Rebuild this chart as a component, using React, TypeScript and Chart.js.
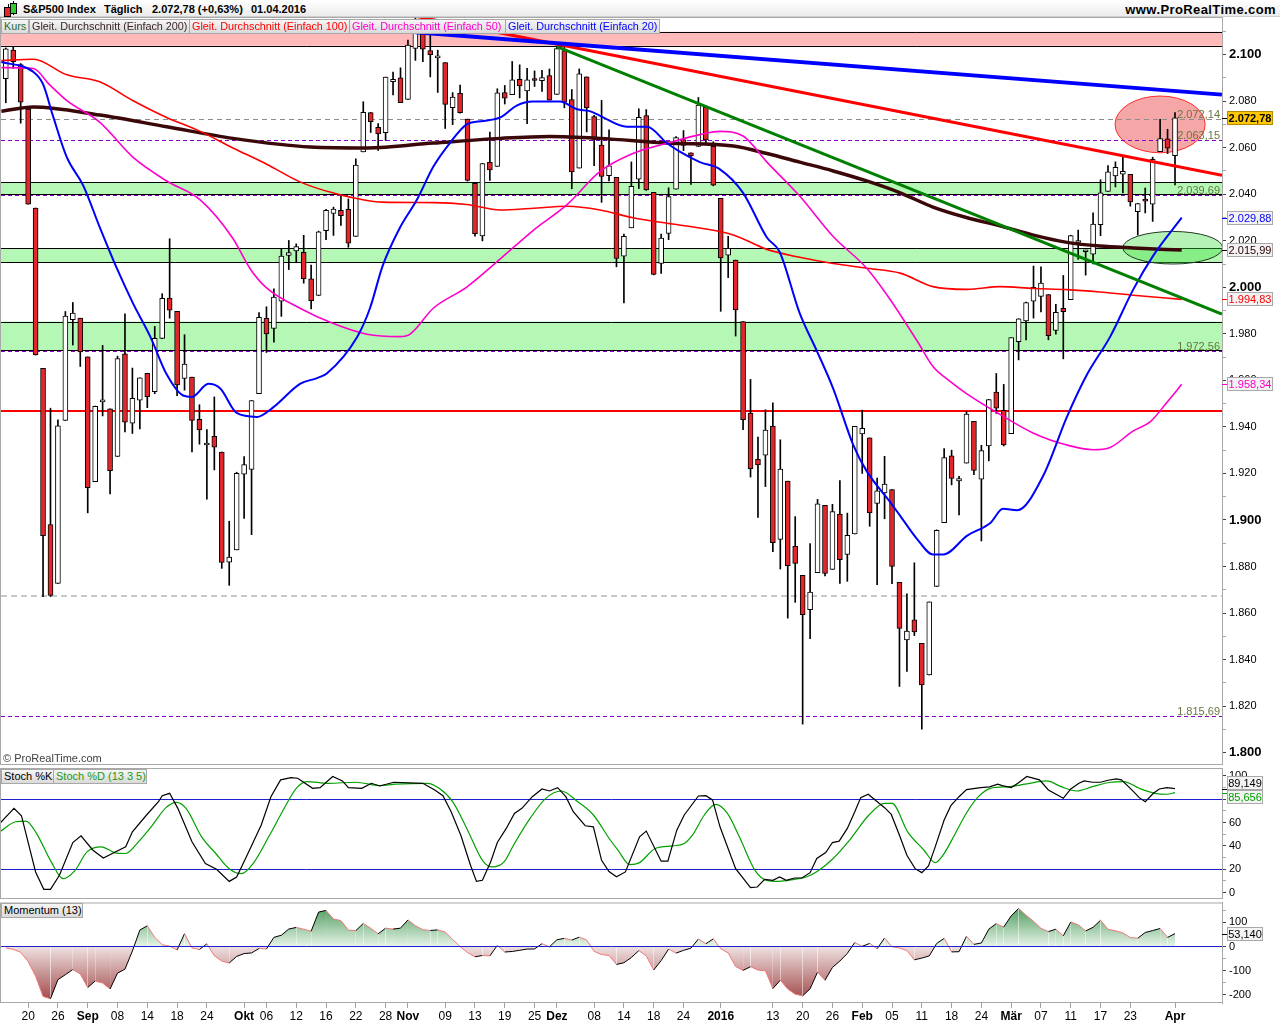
import React, { useEffect, useRef } from "react";
import { Chart, registerables } from "chart.js";
Chart.register(...registerables);

const FONT = "'Liberation Sans', Arial, Helvetica, sans-serif";
const NARROW = "'Liberation Sans Narrow', 'Arial Narrow', 'Liberation Sans', Arial, sans-serif";
Chart.defaults.font.family = FONT;

// ---------------- DATA (daily S&P500, 17.08.2015 .. 01.04.2016, index = trading day) ----------------
const openPrices = [
  2089.70, 2101.99, 2095.69, 2076.61, 2034.08, 1965.15, 1898.08, 1872.75, 1942.77, 1986.06, 1986.73,
  1970.09, 1916.52, 1950.79, 1947.76, 1927.30, 1971.45, 1941.59, 1951.45, 1963.06, 1955.10, 1978.02, 1995.33, 1989.66, 1960.84, 1961.39, 1943.24, 1932.24, 1935.93, 1929.18, 1881.90, 1887.14,
  1919.65, 1921.77, 1954.33, 1986.63, 1982.34, 1994.01, 2013.73, 2015.65, 2015.00, 2003.66, 1996.47, 2024.37, 2031.73, 2033.13, 2033.47, 2021.88, 2058.19, 2075.08, 2068.75, 2066.48, 2088.35, 2090.00,
  2080.76, 2102.63, 2110.60, 2101.68, 2098.60, 2096.56, 2077.19, 2083.41, 2072.29, 2044.64, 2022.08, 2053.67, 2051.99, 2083.70, 2082.82, 2089.41, 2084.42, 2089.30, 2088.82, 2090.95,
  2082.93, 2101.71, 2080.71, 2051.24, 2090.42, 2073.39, 2061.17, 2047.93, 2047.27, 2013.37, 2025.55, 2046.50, 2073.76, 2040.81, 2010.27, 2023.15, 2042.20, 2063.52, 2057.77, 2060.54, 2077.34, 2060.59,
  2038.20, 2013.78, 2011.71, 1985.32, 1945.97, 1926.12, 1927.83, 1940.34, 1891.68, 1916.68, 1888.66, 1876.18, 1861.46, 1877.40, 1906.28, 1878.79, 1902.52, 1885.22, 1894.00,
  1936.94, 1935.26, 1907.07, 1911.67, 1913.07, 1873.25, 1848.46, 1857.10, 1847.00, 1833.40, 1871.44, 1898.80, 1927.57, 1916.74, 1924.44, 1942.38, 1917.56, 1931.87, 1954.95, 1947.13,
  1937.09, 1976.60, 1985.60, 1994.01, 1996.11, 1996.88, 1981.44, 1990.97, 1994.71, 2019.27, 2015.27, 2014.24, 2026.90, 2041.16, 2047.88, 2048.64, 2048.55, 2032.48, 2037.89, 2035.75, 2058.27, 2063.77,
  2056.62,
];
const highPrices = [
  2102.87, 2103.47, 2096.17, 2076.61, 2034.08, 1965.15, 1948.04, 1943.09, 1989.60, 1993.48, 1986.73,
  1970.09, 1948.91, 1975.01, 1947.76, 1970.42, 1988.63, 1965.29, 1961.05, 1963.06, 1983.19, 1997.26, 2020.86, 1989.66, 1979.64, 1961.39, 1949.52, 1938.88, 1952.89, 1929.18, 1899.48, 1920.53,
  1927.21, 1951.36, 1989.17, 1991.62, 1999.31, 2016.50, 2020.13, 2018.66, 2022.34, 2009.56, 2024.15, 2033.54, 2034.45, 2039.12, 2037.97, 2055.20, 2079.74, 2075.14, 2070.37, 2090.35, 2092.52, 2094.32,
  2106.20, 2116.48, 2114.59, 2108.78, 2101.91, 2096.56, 2083.67, 2086.94, 2072.29, 2044.64, 2053.22, 2066.69, 2085.31, 2086.74, 2097.06, 2095.61, 2094.12, 2093.00, 2093.29, 2093.81,
  2103.37, 2104.27, 2085.00, 2093.84, 2090.42, 2073.85, 2080.33, 2067.65, 2047.27, 2022.92, 2053.87, 2076.72, 2076.37, 2040.81, 2022.90, 2042.74, 2064.73, 2067.36, 2057.77, 2081.56, 2077.34, 2062.54,
  2038.20, 2021.94, 2011.71, 1985.32, 1960.40, 1935.65, 1947.38, 1950.33, 1934.47, 1916.68, 1901.44, 1876.18, 1889.85, 1908.85, 1906.28, 1906.73, 1916.99, 1902.96, 1940.24,
  1947.20, 1935.26, 1918.01, 1927.35, 1913.07, 1873.25, 1868.25, 1881.60, 1847.00, 1864.78, 1895.77, 1930.68, 1930.00, 1918.78, 1946.70, 1942.38, 1932.08, 1951.83, 1962.96, 1958.27,
  1978.35, 1986.51, 1993.69, 2009.13, 2008.76, 1996.88, 1992.69, 2005.08, 2022.37, 2024.57, 2015.94, 2032.02, 2046.24, 2052.36, 2053.91, 2056.60, 2048.55, 2036.04, 2042.67, 2055.91, 2072.21, 2067.92,
  2075.07,
];
const lowPrices = [
  2079.30, 2094.14, 2070.53, 2035.73, 1970.89, 1867.01, 1867.08, 1872.75, 1942.77, 1975.19, 1965.98,
  1903.07, 1916.52, 1944.72, 1911.21, 1927.30, 1937.88, 1937.19, 1939.19, 1948.27, 1954.30, 1977.93, 1986.73, 1953.45, 1955.80, 1929.22, 1932.57, 1908.92, 1921.50, 1879.21, 1871.91, 1887.14,
  1900.70, 1893.70, 1954.33, 1971.99, 1976.44, 1987.53, 2007.61, 2010.55, 2001.78, 1990.73, 1996.47, 2020.46, 2022.31, 2026.61, 2017.22, 2021.88, 2058.19, 2066.53, 2058.84, 2063.11, 2082.63, 2079.34,
  2080.76, 2097.51, 2096.98, 2090.41, 2083.74, 2068.24, 2069.91, 2074.85, 2045.66, 2022.02, 2019.94, 2045.90, 2051.99, 2078.76, 2082.82, 2081.39, 2070.29, 2086.30, 2084.13, 2080.41,
  2082.93, 2077.11, 2042.35, 2051.24, 2066.78, 2052.32, 2036.53, 2045.67, 2008.80, 1993.26, 2025.55, 2042.43, 2041.66, 2005.33, 2005.93, 2020.49, 2042.20, 2058.73, 2044.20, 2060.54, 2061.97, 2043.62,
  1989.68, 2004.17, 1979.05, 1938.83, 1918.46, 1901.10, 1914.35, 1886.41, 1878.93, 1857.83, 1864.60, 1812.29, 1848.98, 1877.40, 1875.97, 1878.79, 1872.70, 1873.65, 1894.00,
  1920.03, 1897.29, 1872.23, 1900.52, 1872.65, 1828.46, 1834.94, 1850.32, 1810.10, 1833.40, 1871.44, 1898.80, 1915.09, 1902.17, 1924.44, 1919.44, 1891.00, 1925.41, 1945.78, 1931.81,
  1937.09, 1968.80, 1977.37, 1986.77, 1989.44, 1977.43, 1979.84, 1969.25, 1994.71, 2012.05, 2005.23, 2010.04, 2022.16, 2041.16, 2043.14, 2040.57, 2034.86, 2022.49, 2031.96, 2028.31, 2058.27, 2057.46,
  2043.98,
];
const closePrices = [
  2102.44, 2096.92, 2079.61, 2035.73, 1970.89, 1893.21, 1867.61, 1940.51, 1987.66, 1988.87, 1972.18,
  1913.85, 1948.86, 1951.13, 1921.22, 1969.41, 1942.04, 1952.29, 1961.05, 1953.03, 1978.09, 1995.31, 1990.20, 1958.03, 1966.97, 1942.74, 1938.76, 1932.24, 1931.34, 1881.77, 1884.09, 1920.03,
  1923.82, 1951.36, 1987.05, 1979.92, 1995.83, 2013.43, 2014.89, 2017.46, 2003.69, 1994.24, 2023.86, 2033.11, 2033.66, 2030.77, 2018.94, 2052.51, 2075.15, 2071.18, 2065.89, 2090.35, 2089.41, 2079.36,
  2104.05, 2109.79, 2102.31, 2099.93, 2099.20, 2078.58, 2081.72, 2075.00, 2045.97, 2023.04, 2053.19, 2050.44, 2083.58, 2081.24, 2089.17, 2086.59, 2089.14, 2088.87, 2090.11, 2080.41,
  2102.63, 2079.51, 2049.62, 2091.69, 2077.07, 2063.59, 2047.62, 2052.23, 2012.37, 2021.94, 2043.41, 2073.07, 2041.89, 2005.55, 2021.15, 2038.97, 2064.29, 2060.99, 2056.50, 2078.36, 2063.36, 2043.94,
  2012.66, 2016.71, 1990.26, 1943.09, 1922.03, 1923.67, 1938.68, 1890.28, 1921.84, 1880.33, 1881.33, 1859.33, 1868.99, 1906.90, 1877.08, 1903.63, 1882.95, 1893.36, 1940.24,
  1939.38, 1903.03, 1912.53, 1915.45, 1880.05, 1853.44, 1852.21, 1851.86, 1829.08, 1864.78, 1895.58, 1926.82, 1917.83, 1917.78, 1945.50, 1921.27, 1929.80, 1951.70, 1948.05, 1932.23,
  1978.35, 1986.45, 1993.40, 1999.99, 2001.76, 1979.26, 1989.26, 1989.57, 2022.19, 2019.64, 2015.93, 2027.22, 2040.59, 2049.58, 2051.60, 2049.80, 2036.71, 2035.94, 2037.05, 2055.01, 2063.95, 2059.74,
  2072.78,
];

// moving averages: [trading-day position, value]
const sma200 = [
  [-0.6, 2075.7], [3.7, 2077.5], [12.6, 2074], [21.6, 2069], [30.5, 2064], [40.9, 2060.3], [48.5, 2059.9], [57.4, 2062],
  [66.4, 2064], [73, 2064.8], [79.8, 2064], [88.8, 2062], [97.7, 2060.7], [102.2, 2057.5], [106.6, 2053.8], [111.1, 2050],
  [115.6, 2045.7], [120.1, 2040.6], [124.5, 2034.5], [129.1, 2029.9], [133.5, 2026.4], [138, 2022.4], [142.5, 2019.3],
  [146.9, 2017.7], [151.4, 2016.9], [157.9, 2016.0],
];
const sma100 = [
  [-0.6, 2097.4], [3.7, 2098], [8.2, 2091.3], [12.6, 2088.3], [17.1, 2080.2], [21.6, 2073], [26.1, 2067], [30.5, 2059.9],
  [35.1, 2052.8], [39.5, 2045.3], [43.9, 2040.6], [50.6, 2036.6], [57.4, 2036.4], [61.9, 2035.6], [66.4, 2033.2], [70.8, 2034],
  [75.4, 2034.8], [79.8, 2033.2], [84.2, 2029.9], [88.8, 2027.5], [93.2, 2025.5], [97.7, 2022.5], [102.2, 2016.3], [106.6, 2012.9],
  [111.1, 2010.2], [115.6, 2008.2], [120.1, 2006.1], [124.5, 2000.3], [129.1, 1999.1], [133.5, 2000.3], [138, 1999.5],
  [142.5, 1999], [146.9, 1998], [151.4, 1996.6], [157.9, 1994.8],
];
const sma50 = [
  [-0.6, 2094.4], [3.7, 2094], [5.9, 2087], [8.2, 2080.2], [12.6, 2071], [17.1, 2055.8], [21.6, 2045.7], [26.1, 2037.6],
  [30.5, 2021], [32.8, 2008], [35.1, 1999.5], [39.5, 1991], [43.9, 1984.5], [48.5, 1979.8], [52.9, 1978.8], [54.3, 1979.9],
  [57.4, 1991], [61.9, 2000.1], [66.4, 2012.2], [70.8, 2024.4], [75.4, 2035.6], [79.8, 2049.8], [84.2, 2057.5], [88.8, 2061.9],
  [93.2, 2065.6], [95.9, 2067], [99, 2065], [102.2, 2053.8], [106.6, 2039.2], [111.1, 2021.8], [115.6, 2008.2], [118.7, 1995],
  [122.4, 1976.8], [124.5, 1966], [126.8, 1959.6], [129.1, 1954.1], [133.5, 1945.4], [138, 1937.3], [142.5, 1932.2],
  [146, 1930.2], [148.3, 1931.2], [151.4, 1938.3], [153.7, 1942.3], [155.9, 1950.5], [157.9, 1958.3],
];
const sma20 = [
  [-0.6, 2096.8], [3.65, 2092.7], [5.0, 2087.3], [6.3, 2074], [8.2, 2055.8], [10.4, 2043.7], [12.65, 2025.5], [14.9, 2008.2],
  [17.1, 1993], [19.4, 1978.8], [21.6, 1962.6], [23.8, 1953.5], [25, 1952.9], [27.2, 1958.5], [28.8, 1956.5], [31, 1946],
  [33.7, 1944.3], [35.9, 1948.4], [39.5, 1958.5], [41.8, 1961], [43.1, 1963], [47.2, 1978.8], [48.9, 1991], [50.6, 2009.2],
  [52.9, 2025.5], [55.2, 2037.6], [57.4, 2051.8], [59.6, 2061.9], [61.9, 2070], [64.1, 2071.5], [66.4, 2073], [68.6, 2078.1],
  [70.8, 2079.8], [74.4, 2079.8], [76.7, 2076.5], [78.4, 2075.7], [79.8, 2073.7], [83.4, 2069], [86.1, 2069], [88.8, 2061.9],
  [90.5, 2058.3], [93.2, 2053.8], [95.9, 2050.7], [99, 2040.6], [102.2, 2021.4], [103.9, 2015.3], [106.6, 1988.9],
  [108.9, 1972.7], [111.1, 1956.5], [113.8, 1932.2], [115.6, 1921], [118.7, 1907.9], [120.1, 1901.8], [122.4, 1891.7],
  [124.5, 1885.2], [125.9, 1885.2], [129.1, 1893.3], [132.2, 1898.7], [133.9, 1904.8], [135.8, 1904.2], [139.3, 1919],
  [142.5, 1944.4], [145.2, 1962.6], [148.3, 1978.8], [151.4, 1999.1], [154.1, 2013.7], [157.9, 2029.9],
];

// trend lines [position, price]
const trendBlue = [[55, 2109.6], [163.3, 2082.8]];
const trendRed = [[55, 2116.5], [163.3, 2048.1]];
const trendGreen = [[74, 2103.4], [163.3, 1988.5]];

// stochastic %K / %D (13 3 5)
const stochK = [
  [-0.8, 59.3], [1.1, 72.2], [2.1, 65.9], [4.0, 17.7], [5.1, 2.8], [6.0, 2.8], [7.2, 14.8], [9.0, 42.9], [10.1, 48.7],
  [11.7, 36.3], [13.1, 29.7], [14.9, 35.5], [16.1, 39.2], [17.0, 52.1], [18.9, 66.5], [20.5, 77.9], [21.0, 83.1], [22.0, 85.1],
  [23.1, 72.2], [25.0, 43.5], [26.8, 24.9], [28.3, 20], [30.0, 9.6], [31.0, 13.4], [32.4, 32], [34.3, 57.9], [35.6, 82.2],
  [36.9, 96.6], [38.3, 98.6], [39.2, 98], [41.2, 89.4], [42.2, 90], [43.9, 99.5], [45.2, 95.7], [46.0, 90], [47.8, 89.4],
  [49.1, 93.7], [50.2, 91.4], [52.1, 94.6], [56.0, 93.7], [57.6, 88], [58.7, 83.1], [59.8, 69.3], [61.1, 49.2], [62.4, 23.4],
  [63.2, 9.6], [64.0, 10.5], [65.1, 26.3], [66.0, 42.9], [67.2, 55], [68.3, 67.9], [69.3, 72.2], [70.7, 82.2], [72.0, 88.8],
  [73.0, 87.1], [74.1, 90], [75.2, 82.2], [76.2, 69.3], [77.8, 57.3], [78.9, 56.4], [80.0, 27.7], [81.0, 18], [82.0, 13.5],
  [83.2, 17.7], [85.1, 47.8], [86.0, 52.7], [88.0, 26.9], [88.9, 26.9], [90.1, 53.5], [91.1, 66.5], [93.0, 82.8], [94.0, 83.1],
  [94.9, 79.4], [95.9, 56.4], [98.0, 20.5], [100.0, 4.2], [100.9, 4.8], [101.9, 11.4], [103.0, 10.5], [103.9, 13.4],
  [104.8, 10.5], [105.9, 12.5], [106.9, 12.5], [108.0, 17.1], [108.9, 29.2], [110.1, 34.3], [111.0, 42.9], [111.9, 44.1],
  [113.0, 55], [114.0, 69.3], [114.8, 81.4], [115.8, 84.3], [116.9, 78.5], [118.0, 72.8], [118.9, 67], [120.0, 49.2],
  [121.0, 32], [122.1, 20.5], [123.0, 17.1], [123.9, 22.8], [124.8, 39.2], [126.0, 62.2], [126.9, 74.5], [128.0, 82.2],
  [129.0, 88.3], [130.9, 90], [132.1, 90.6], [133.2, 92.9], [133.8, 91.7], [135.0, 90], [135.9, 93.7], [137.1, 99.5],
  [138.8, 96.6], [140.0, 88], [142.0, 80.8], [143.0, 88.8], [144.1, 93.7], [144.8, 95.7], [145.9, 94.6], [147.0, 94.6],
  [148.0, 96.3], [149.1, 97.4], [149.8, 96.6], [151.2, 88], [152.2, 81.4], [153.0, 77.9], [154.1, 85.1], [154.9, 88.8],
  [155.9, 90], [157.0, 89.1],
];
const stochD = [
  [-0.8, 52.1], [1.3, 60.7], [2.7, 61.3], [4.0, 52.1], [6.1, 26.3], [7.7, 11.9], [9.3, 19.1], [10.9, 34.9], [12.8, 39.2],
  [14.6, 34.3], [16.1, 33.5], [17.8, 43.5], [19.7, 57.9], [21.5, 72.8], [22.9, 77.4], [24.2, 72.2], [26.3, 47.8], [28.2, 33.5],
  [30.0, 20.5], [31.6, 16.2], [33.2, 24.9], [35.3, 47.8], [37.5, 73.6], [39.0, 89.4], [40.4, 95.2], [43.3, 93.7], [47.0, 94.6],
  [50.2, 91.7], [52.3, 92.9], [56.6, 93.7], [58.2, 89.4], [60.0, 77.9], [61.9, 55], [64.0, 27.7], [65.3, 22], [66.9, 26.3],
  [68.3, 42.1], [70.4, 63.6], [72.5, 80.8], [74.6, 87.1], [76.8, 77.9], [78.9, 66.5], [81.0, 46.6], [82.2, 36.3], [83.8, 24],
  [85.1, 25.7], [87.2, 37.8], [89.6, 40.1], [91.1, 42.1], [92.2, 49.2], [93.8, 66.5], [95.3, 75.6], [96.9, 67.9], [98.5, 47.8],
  [100.6, 19.1], [102.2, 10.5], [103.8, 9.6], [105.9, 11.4], [107.5, 13.4], [109.0, 18.3], [111.1, 29.2], [113.3, 44.9],
  [115.9, 66.5], [118.0, 76.5], [119.0, 76.5], [121.1, 52.1], [123.3, 36.3], [124.8, 25.7], [125.9, 32.6], [127.5, 50.7],
  [129.1, 69.3], [130.6, 82.2], [132.2, 89.4], [134.8, 90.8], [136.9, 92.9], [139.8, 95.7], [141.7, 90.8], [143.8, 87.1],
  [145.9, 90.8], [148.3, 94.6], [150.1, 95.2], [152.2, 89.4], [154.3, 85.1], [155.9, 84.3], [157.0, 85.7],
];

// momentum (13), one value per trading day
const momentum13 = [
  -6.13, -11.71, -24.23, -62.31, -122.43, -206.63, -215.95, -137.06, -116.52, -95.20, -113.87, -169.54, -142.68,
  -151.31, -175.70, -110.20, -93.69, -18.60, 67.84, 85.42, 37.58, 7.65, 1.33, -14.15, 53.12, -6.12, -12.37, 11.02,
  -38.07, -60.27, -68.20, -41.02, -29.21, -26.73, -8.26, -10.28, 37.80, 46.46, 72.15, 78.70, 71.45, 62.90, 142.09,
  149.02, 113.63, 106.95, 67.58, 65.46, 95.23, 75.35, 52.46, 75.46, 71.95, 75.67, 109.81, 85.93, 69.20, 66.27, 68.43,
  59.64, 29.21, -0.15, -25.21, -42.85, -37.16, -38.97, 4.22, -22.81, -20.62, -15.72, -10.79, -10.33, 11.53, -1.31,
  27.63, 33.54, 26.58, 38.50, 26.63, -19.99, -33.62, -36.94, -74.22, -67.20, -45.46, -17.04, -38.52, -97.08, -58.36,
  -10.65, -27.40, -16.08, -7.09, 30.74, 11.13, 31.57, -9.28, -26.70, -82.81, -98.80, -83.52, -97.48, -100.29, -174.01,
  -139.15, -176.17, -197.03, -204.03, -174.95, -105.76, -139.63, -86.63, -60.14, -28.67, 16.57, 0.70, 12.75, -9.31,
  35.12, -1.28, -5.89, -16.78, -55.04, -48.00, -38.85, 12.63, 33.46, -22.41, -21.60, 42.47, 8.74, 14.35, 71.65, 94.61,
  80.02, 126.49, 157.37, 128.62, 104.41, 74.94, 61.43, 71.48, 44.07, 100.92, 89.84, 64.23, 79.17, 108.36, 71.23, 65.15,
  56.40, 36.72, 34.18, 57.79, 65.75, 74.38, 37.55, 53.14,
];

// x-axis tick positions and labels
const xTickIndex = [3, 7, 11, 15, 19, 23, 27, 32, 35, 39, 43, 47, 51, 54, 59, 63, 67, 71, 74, 79, 83, 87, 91, 96, 103, 107, 111, 115, 119, 123, 127, 131, 135, 139, 143, 147, 151, 157];
const xTickLabel = ["20", "26", "Sep", "08", "14", "18", "24", "Okt", "06", "12", "16", "22", "28", "Nov", "09", "13", "19", "25", "Dez", "08", "14", "18", "24", "2016", "13", "20", "26", "Feb", "05", "11", "18", "24", "Mär", "07", "11", "17", "23", "Apr"];
const boldTickLabels = ["Sep", "Okt", "Nov", "Dez", "2016", "Feb", "Mär", "Apr"];

// drawing annotations (price units)
const priceBands = [
  { lo: 2103.8, hi: 2109.8, fill: "#ffb9b9" },
  { lo: 2040.0, hi: 2045.2, fill: "#b5f8b5" },
  { lo: 2010.7, hi: 2016.8, fill: "#b5f8b5" },
  { lo: 1972.9, hi: 1985.3, fill: "#b5f8b5" },
];
const levelLines = [
  { v: 2072.14, color: "#8c8c8c", width: 1, dash: [5, 4] },
  { v: 2063.15, color: "#8a00c8", width: 1, dash: [4, 3] },
  { v: 2039.69, color: "#8a00c8", width: 1, dash: [4, 3] },
  { v: 1972.56, color: "#8a00c8", width: 1, dash: [4, 3] },
  { v: 1947.0, color: "#ff0000", width: 2, dash: [] },
  { v: 1867.3, color: "#c8c8c8", width: 2, dash: [6, 4] },
  { v: 1815.69, color: "#8a00c8", width: 1, dash: [4, 3] },
];
const levelLabels = [
  { v: 2072.14, text: "2.072,14" },
  { v: 2063.15, text: "2.063,15" },
  { v: 2039.69, text: "2.039,69" },
  { v: 1972.56, text: "1.972,56" },
  { v: 1815.69, text: "1.815,69" },
];
const ellipses = [
  { cx: 155.0, cy: 2070.0, rx: 6.05, ry: 12.2, fill: "rgba(235,70,70,0.48)", stroke: "#ff2a2a" },
  { cx: 156.7, cy: 2017.0, rx: 6.7, ry: 7.0, fill: "rgba(60,220,60,0.38)", stroke: "#203a20" },
];
const mainBoxes = [
  { v: 2072.78, text: "2.072,78", color: "#000", bg: "#ffc800", border: "#b08a00", bold: true, tick: "#000", dy: 0 },
  { v: 2029.88, text: "2.029,88", color: "#0000ff", bg: "#f3f3f3", border: "#a8a8a8", bold: false, tick: "#0000ff", dy: 0 },
  { v: 2015.99, text: "2.015,99", color: "#2a0000", bg: "#f3f3f3", border: "#a8a8a8", bold: false, tick: "#2a0000", dy: 0 },
  { v: 1994.83, text: "1.994,83", color: "#ff0000", bg: "#f3f3f3", border: "#a8a8a8", bold: false, tick: "#ff0000", dy: 0 },
  { v: 1958.34, text: "1.958,34", color: "#ff00cc", bg: "#f3f3f3", border: "#a8a8a8", bold: false, tick: "#ff00cc", dy: 0 },
];
const stochBoxes = [
  { v: 89.149, text: "89,149", color: "#000", bg: "#f3f3f3", border: "#a8a8a8", bold: false, tick: "#000", dy: -5.5 },
  { v: 85.656, text: "85,656", color: "#00a000", bg: "#f3f3f3", border: "#a8a8a8", bold: false, tick: "#00a000", dy: 4.5 },
];
const momBoxes = [
  { v: 53.14, text: "53,140", color: "#000", bg: "#f3f3f3", border: "#a8a8a8", bold: false, tick: "#000", dy: 0 },
];

// ---------------- layout constants ----------------
const X_MIN = -0.645;
const X_MAX = 163.31;
const AXIS_W = 58;
const MAIN_MIN = 1794.71, MAIN_MAX = 2116.16;
const STO_MIN = -5.5, STO_MAX = 106.8;
const MOM_MIN = -233.5, MOM_MAX = 181.7;

function range(a: number, b: number, s: number) {
  const r: number[] = [];
  for (let v = a; v <= b + 1e-9; v += s) r.push(v);
  return r;
}
function fmtPrice(v: number) {
  const s = String(Math.round(v));
  return s.length > 3 ? s.slice(0, -3) + "." + s.slice(-3) : s;
}
const pts = (arr: number[][]) => arr.map(([x, y]) => ({ x, y }));

function yAxis(min: number, max: number, ticks: number[], labelEvery: number, boldEvery: number, fmt: (v: number) => string) {
  return {
    position: "right",
    min,
    max,
    afterBuildTicks: (s: any) => { s.ticks = ticks.map((v) => ({ value: v })); },
    afterFit: (s: any) => { s.width = AXIS_W; s.paddingTop = 0; s.paddingBottom = 0; },
    grid: {
      drawOnChartArea: false,
      drawTicks: true,
      tickLength: 4,
      color: (c: any) => (c.tick && Math.abs(c.tick.value % labelEvery) < 1e-6 ? "#404040" : "#a8a8a8"),
    },
    border: { display: true, color: "#a0a0a0" },
    ticks: {
      padding: 3,
      color: "#000",
      autoSkip: false,
      callback: (v: number) => (Math.abs(v % labelEvery) < 1e-6 ? fmt(v) : ""),
      font: (c: any) =>
        boldEvery && c.tick && Math.abs(c.tick.value % boldEvery) < 1e-6
          ? { size: 13, weight: "bold", family: FONT }
          : { size: 11, family: FONT },
    },
  };
}
const hiddenX = { type: "linear", min: X_MIN, max: X_MAX, display: false };

function drawBoxes(chart: any, boxes: any[], w: number) {
  const { ctx, chartArea: a, scales } = chart;
  const y = scales.y;
  ctx.save();
  for (const b of boxes) {
    const vy = y.getPixelForValue(b.v);
    const cy = vy + b.dy;
    ctx.strokeStyle = b.tick;
    ctx.lineWidth = 1;
    ctx.beginPath();
    ctx.moveTo(a.right, Math.round(vy) + 0.5);
    ctx.lineTo(a.right + 5, Math.round(vy) + 0.5);
    ctx.stroke();
    const top = Math.round(cy - 7);
    ctx.fillStyle = b.bg;
    ctx.fillRect(a.right + 5, top, w, 14);
    ctx.strokeStyle = b.border;
    ctx.strokeRect(a.right + 5.5, top + 0.5, w - 1, 13);
    ctx.fillStyle = b.color;
    ctx.font = `${b.bold ? "bold " : ""}11px ${FONT}`;
    ctx.textAlign = "center";
    ctx.textBaseline = "middle";
    ctx.fillText(b.text, a.right + 5 + w / 2, top + 7.5);
  }
  ctx.restore();
}
function drawFrame(chart: any) {
  const { ctx, chartArea: a } = chart;
  ctx.save();
  ctx.strokeStyle = "#a8a8a8";
  ctx.lineWidth = 1;
  ctx.strokeRect(a.left - 0.5, a.top + 0.5, a.right - a.left + 1, a.bottom - a.top - 1);
  ctx.restore();
}
function hLine(ctx: any, a: any, py: number, color: string, width: number, dash: number[]) {
  ctx.strokeStyle = color;
  ctx.lineWidth = width;
  ctx.setLineDash(dash);
  const yy = width % 2 === 1 ? Math.round(py) + 0.5 : Math.round(py);
  ctx.beginPath();
  ctx.moveTo(a.left, yy);
  ctx.lineTo(a.right, yy);
  ctx.stroke();
  ctx.setLineDash([]);
}

const mainDecor = {
  id: "mainDecor",
  beforeDatasetsDraw(chart: any) {
    const { ctx, chartArea: a, scales } = chart;
    const { x, y } = scales;
    ctx.save();
    ctx.beginPath();
    ctx.rect(a.left, a.top, a.right - a.left, a.bottom - a.top);
    ctx.clip();
    for (const b of priceBands) {
      const y1 = y.getPixelForValue(b.hi), y2 = y.getPixelForValue(b.lo);
      ctx.fillStyle = b.fill;
      ctx.fillRect(a.left, y1, a.right - a.left, y2 - y1);
      hLine(ctx, a, y1, "#000", 1, []);
      hLine(ctx, a, y2, "#000", 1, []);
    }
    for (const e of ellipses) {
      const cx = x.getPixelForValue(e.cx), cy = y.getPixelForValue(e.cy);
      const rx = Math.abs(x.getPixelForValue(e.cx + e.rx) - cx);
      const ry = Math.abs(y.getPixelForValue(e.cy + e.ry) - cy);
      ctx.beginPath();
      ctx.ellipse(cx, cy, rx, ry, 0, 0, Math.PI * 2);
      ctx.fillStyle = e.fill;
      ctx.fill();
      ctx.strokeStyle = e.stroke;
      ctx.lineWidth = 1;
      ctx.stroke();
    }
    for (const l of levelLines) hLine(ctx, a, y.getPixelForValue(l.v), l.color, l.width, l.dash);
    ctx.restore();
  },
  afterDatasetsDraw(chart: any) {
    const { ctx, chartArea: a, scales } = chart;
    ctx.save();
    ctx.font = `11px ${FONT}`;
    ctx.fillStyle = "#66773f";
    ctx.textAlign = "right";
    ctx.textBaseline = "alphabetic";
    for (const l of levelLabels) ctx.fillText(l.text, a.right - 2, Math.round(scales.y.getPixelForValue(l.v)) - 1.5);
    ctx.restore();
  },
  afterDraw(chart: any) {
    drawFrame(chart);
    drawBoxes(chart, mainBoxes, 46);
  },
};

const stochDecor = {
  id: "stochDecor",
  beforeDatasetsDraw(chart: any) {
    const { ctx, chartArea: a, scales } = chart;
    ctx.save();
    hLine(ctx, a, scales.y.getPixelForValue(80), "#1e1ed2", 1, []);
    hLine(ctx, a, scales.y.getPixelForValue(20), "#1e1ed2", 1, []);
    ctx.restore();
  },
  afterDraw(chart: any) {
    drawFrame(chart);
    drawBoxes(chart, stochBoxes, 36);
  },
};
const momDecor = {
  id: "momDecor",
  afterDatasetsDraw(chart: any) {
    const { ctx, chartArea: a, scales } = chart;
    ctx.save();
    hLine(ctx, a, scales.y.getPixelForValue(0), "#1e1ed2", 1, []);
    ctx.restore();
  },
  afterDraw(chart: any) {
    drawFrame(chart);
    drawBoxes(chart, momBoxes, 36);
  },
};

const baseOpts = {
  responsive: false,
  animation: false,
  events: [],
  layout: { padding: { left: 1, right: 0, top: 0, bottom: 0 } },
  plugins: { legend: { display: false }, tooltip: { enabled: false } },
};

function mainConfig(): any {
  const lineDs = (data: number[][], color: string, width: number, order: number) => ({
    type: "line",
    data: pts(data),
    borderColor: color,
    borderWidth: width,
    pointRadius: 0,
    cubicInterpolationMode: "monotone",
    fill: false,
    order,
  });
  const trendDs = (data: number[][], color: string, width: number, order: number) => ({
    type: "line",
    data: pts(data),
    borderColor: color,
    borderWidth: width,
    pointRadius: 0,
    tension: 0,
    fill: false,
    order,
  });
  return {
    type: "bar",
    data: {
      datasets: [
        {
          type: "bar",
          data: openPrices.map((_, i) => ({ x: i, y: [lowPrices[i], highPrices[i]] })),
          backgroundColor: "#000",
          borderWidth: 0,
          barThickness: 1,
          grouped: false,
          order: 30,
        },
        {
          type: "bar",
          data: openPrices.map((o, i) => ({ x: i, y: [o, closePrices[i]] })),
          backgroundColor: openPrices.map((o, i) => (closePrices[i] >= o ? "#ffffff" : "#e3262b")),
          borderColor: "#000",
          borderWidth: 1,
          borderSkipped: false,
          barThickness: 5,
          minBarLength: 2,
          grouped: false,
          order: 29,
        },
        lineDs(sma200, "#3a0808", 3.5, 20),
        lineDs(sma100, "#ff0000", 1.6, 19),
        lineDs(sma50, "#ff00cc", 1.6, 18),
        lineDs(sma20, "#0000ff", 2, 17),
        trendDs(trendGreen, "#008000", 3, 3),
        trendDs(trendRed, "#ff0000", 3, 2),
        trendDs(trendBlue, "#0000ff", 4, 1),
      ],
    },
    options: {
      ...baseOpts,
      scales: {
        x: { ...hiddenX, offset: false },
        y: yAxis(MAIN_MIN, MAIN_MAX, range(1800, 2110, 10), 20, 100, fmtPrice),
      },
    },
    plugins: [mainDecor],
  };
}

function stochConfig(): any {
  return {
    type: "line",
    data: {
      datasets: [
        { data: pts(stochK), borderColor: "#000", borderWidth: 1.2, pointRadius: 0, tension: 0, fill: false, order: 1 },
        { data: pts(stochD), borderColor: "#00a000", borderWidth: 1.2, pointRadius: 0, cubicInterpolationMode: "monotone", fill: false, order: 2 },
      ],
    },
    options: {
      ...baseOpts,
      scales: {
        x: hiddenX,
        y: yAxis(STO_MIN, STO_MAX, range(0, 100, 10), 20, 0, (v) => String(v)),
      },
    },
    plugins: [stochDecor],
  };
}

function momConfig(): any {
  return {
    type: "line",
    data: {
      datasets: [
        {
          data: momentum13.map((v, i) => ({ x: i, y: v })),
          borderColor: "#000",
          borderWidth: 1,
          pointRadius: 0,
          tension: 0,
          fill: { target: "origin", above: "#a8d8b0", below: "#d8b0b0" },
          segment: {
            borderColor: (c: any) => (c.p1.parsed.y >= c.p0.parsed.y ? "#000000" : "#f07878"),
          },
        },
      ],
    },
    options: {
      ...baseOpts,
      scales: {
        x: {
          type: "linear",
          min: X_MIN,
          max: X_MAX,
          position: "bottom",
          afterBuildTicks: (s: any) => { s.ticks = xTickIndex.map((v) => ({ value: v })); },
          afterFit: (s: any) => { s.height = 21; s.paddingLeft = 0; s.paddingRight = 0; },
          grid: { drawOnChartArea: false, drawTicks: true, tickLength: 5, color: "#a0a0a0" },
          border: { display: false },
          ticks: {
            autoSkip: false,
            maxRotation: 0,
            minRotation: 0,
            padding: 1,
            color: "#000",
            callback: (v: number) => {
              const k = xTickIndex.indexOf(v);
              return k >= 0 ? xTickLabel[k] : "";
            },
            font: (c: any) => {
              const k = c.tick ? xTickIndex.indexOf(c.tick.value) : -1;
              const bold = k >= 0 && boldTickLabels.includes(xTickLabel[k]);
              return { family: NARROW, size: 12, weight: bold ? "bold" : "normal" };
            },
          },
        },
        y: yAxis(MOM_MIN, MOM_MAX, range(-200, 150, 50), 100, 0, (v) => String(v)),
      },
    },
    plugins: [momDecor],
  };
}

const legendBox = (left: number, top: number, width: number, color: string, text: string, size = 10.8) => (
  <div
    key={text}
    style={{
      position: "absolute",
      left,
      top,
      width,
      height: 15,
      boxSizing: "border-box",
      border: "1px solid #a8a8a8",
      background: "linear-gradient(#f6f6f6, #dadada)",
      color,
      font: `${size}px ${FONT}`,
      lineHeight: "13px",
      paddingLeft: 2,
      whiteSpace: "nowrap",
      overflow: "visible",
    }}
  >
    {text}
  </div>
);

export default function App() {
  const mainRef = useRef<HTMLCanvasElement>(null);
  const stochRef = useRef<HTMLCanvasElement>(null);
  const momRef = useRef<HTMLCanvasElement>(null);

  useEffect(() => {
    document.body.style.margin = "0";
    document.body.style.overflow = "hidden";
    const charts: any[] = [];
    charts.push(new Chart(mainRef.current as any, mainConfig()));
    charts.push(new Chart(stochRef.current as any, stochConfig()));
    const mom: any = new Chart(momRef.current as any, momConfig());
    const ys = mom.scales.y;
    const c2 = mom.ctx;
    const z = ys.getPixelForValue(0);
    const gUp = c2.createLinearGradient(0, ys.getPixelForValue(160), 0, z);
    gUp.addColorStop(0, "#4f9d5e");
    gUp.addColorStop(1, "#e6f3e8");
    const gDn = c2.createLinearGradient(0, z, 0, ys.getPixelForValue(-216));
    gDn.addColorStop(0, "#efe2e2");
    gDn.addColorStop(1, "#a44c4c");
    mom.data.datasets[0].fill = { target: "origin", above: gUp, below: gDn };
    mom.update();
    charts.push(mom);
    return () => charts.forEach((c) => c.destroy());
  }, []);

  const titleStyle = (left: number): any => ({
    position: "absolute",
    left,
    top: 3,
    font: `bold 11px ${FONT}`,
    color: "#000",
    whiteSpace: "nowrap",
  });

  return (
    <div style={{ position: "absolute", left: 0, top: 0, width: 1280, height: 1024, background: "#fff", overflow: "hidden" }}>
      <canvas ref={mainRef} width={1280} height={748} style={{ position: "absolute", left: 0, top: 17, width: 1280, height: 748 }} />
      <canvas ref={stochRef} width={1280} height={131} style={{ position: "absolute", left: 0, top: 768, width: 1280, height: 131 }} />
      <canvas ref={momRef} width={1280} height={122} style={{ position: "absolute", left: 0, top: 902, width: 1280, height: 122 }} />

      {/* header */}
      <div style={{ position: "absolute", left: 0, top: 0, width: 1280, height: 17, background: "linear-gradient(#ffffff, #ebebeb)", borderBottom: "1px solid #cfcfcf", boxSizing: "border-box" }}>
        <div style={{ position: "absolute", left: 8, top: 4, width: 1, height: 13, background: "#000" }} />
        <div style={{ position: "absolute", left: 4, top: 7, width: 5, height: 8, background: "#e3262b", border: "1px solid #000" }} />
        <div style={{ position: "absolute", left: 13, top: 1, width: 1, height: 14, background: "#000" }} />
        <div style={{ position: "absolute", left: 10, top: 3, width: 5, height: 9, background: "#2ecc2e", border: "1px solid #000" }} />
        <span style={titleStyle(23)}>S&amp;P500 Index</span>
        <span style={titleStyle(104)}>Täglich</span>
        <span style={titleStyle(152)}>2.072,78 (+0,63%)</span>
        <span style={titleStyle(251)}>01.04.2016</span>
        <span style={{ position: "absolute", right: 4, top: 2, font: `bold 13px ${FONT}`, letterSpacing: "0.4px", color: "#000", whiteSpace: "nowrap" }}>
          www.ProRealTime.com
        </span>
      </div>

      {/* main legend */}
      {legendBox(1, 19, 28, "#2f6a2f", "Kurs")}
      {legendBox(29, 19, 161, "#3a2424", "Gleit. Durchschnitt (Einfach 200)")}
      {legendBox(189, 19, 161, "#ff0000", "Gleit. Durchschnitt (Einfach 100)")}
      {legendBox(349, 19, 157, "#ff00cc", "Gleit. Durchschnitt (Einfach 50)")}
      {legendBox(505, 19, 155, "#0000ff", "Gleit. Durchschnitt (Einfach 20)")}

      <div style={{ position: "absolute", left: 3, top: 752, font: `11px ${FONT}`, color: "#404040", whiteSpace: "nowrap" }}>© ProRealTime.com</div>

      {legendBox(1, 769, 53, "#000", "Stoch %K", 11)}
      {legendBox(53, 769, 94, "#1a9a1a", "Stoch %D (13 3 5)", 11)}
      {legendBox(1, 903, 82, "#000", "Momentum (13)", 11)}
    </div>
  );
}
